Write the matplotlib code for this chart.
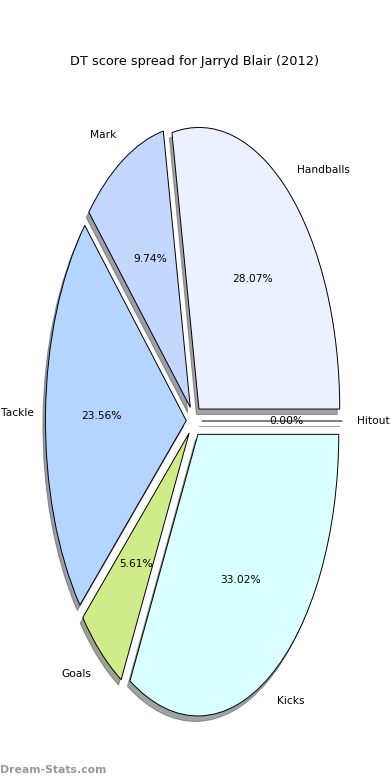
import matplotlib
matplotlib.use("Agg")
import matplotlib.pyplot as plt

labels = ["Hitout", "Handballs", "Mark", "Tackle", "Goals", "Kicks"]
values = [0.00, 28.07, 9.74, 23.56, 5.61, 33.02]
colors = ["#FFFFFF", "#EBF1FF", "#C4D8FF", "#B3D5FF", "#D0EC8A", "#DAFFFF"]
title = "DT score spread for Jarryd Blair (2012)"
watermark = "Dream-Stats.com"

fig = plt.figure(figsize=(3.9, 7.8), dpi=100)
W, H = 390.0, 780.0
cx, cy = 194.0, 421.0
hw, hh = 176.0, 352.0
ax = fig.add_axes([(cx - hw) / W, (H - cy - hh) / H, 2 * hw / W, 2 * hh / H])

wedges, texts, autotexts = ax.pie(
    values, labels=labels, colors=colors, explode=[0.055] * len(values),
    startangle=0, shadow=dict(ox=-0.013, oy=-0.014), autopct="%1.2f%%",
    wedgeprops=dict(edgecolor="black", linewidth=0.7),
    textprops=dict(fontsize=7.7),
)
ax.set_aspect("auto")
ax.set_xlim(-1.25, 1.25)
ax.set_ylim(-1.25, 1.25)

# keep the left-most label inside the canvas
tx, ty = texts[3].get_position()
texts[3].set_position((tx + 0.02, ty))

fig.text(0.5, 1 - 62 / H, title, ha="center", va="center", fontsize=9.3)
fig.text(0.0, 1 - 770 / H, watermark, ha="left", va="center", fontsize=7.8,
         color="#999999", fontweight="semibold")

fig.savefig("out.png", dpi=100)
